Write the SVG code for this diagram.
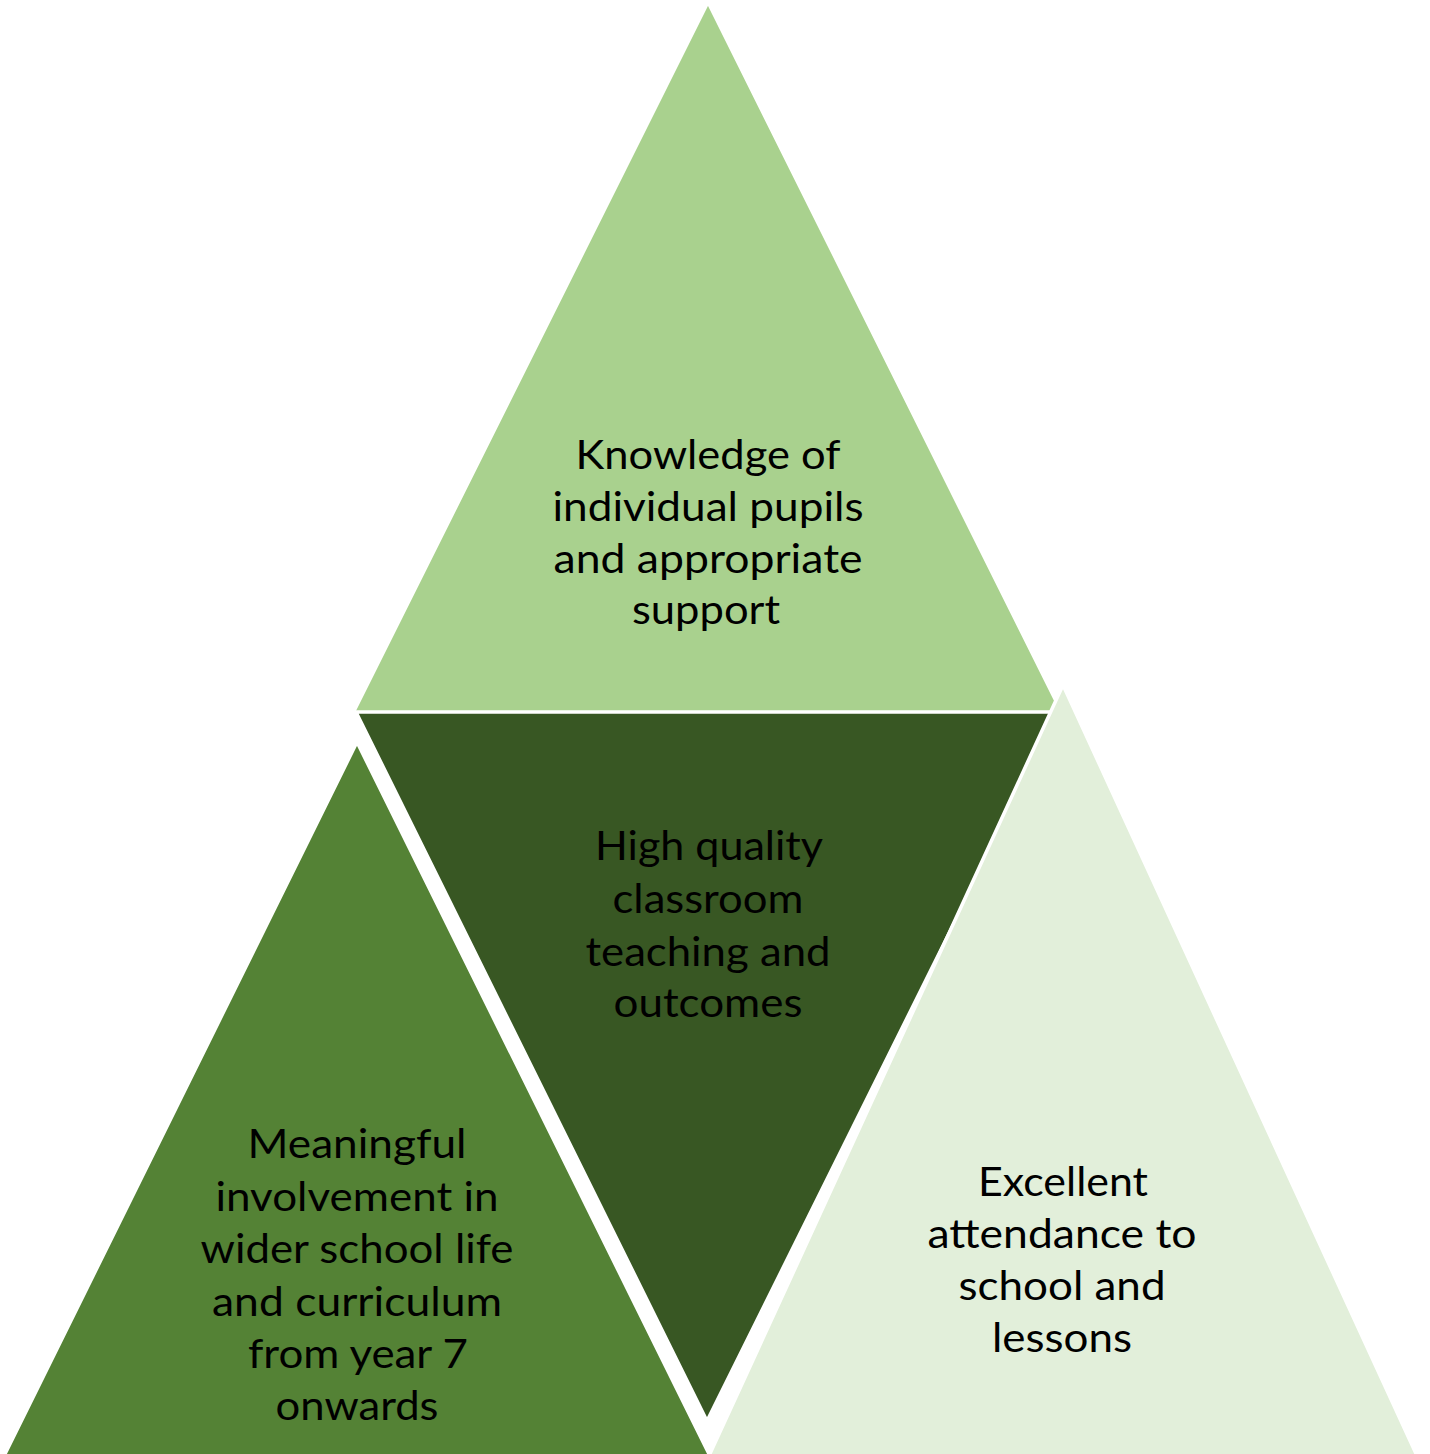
<svg xmlns="http://www.w3.org/2000/svg" width="1430" height="1454" viewBox="0 0 1430 1454">
<style>
.tri{stroke:#FFFFFF;stroke-width:3.5;stroke-linejoin:miter}
.lbl{font-family:Lato,"Noto Sans","Liberation Sans",sans-serif;font-size:41px;fill:#000000;text-anchor:middle}
</style>
<rect width="1430" height="1454" fill="#FFFFFF"/>
<g id="node-top">
<polygon class="tri" points="708,2 353,713 1062,713" fill="#A9D18E"/>
<text class="lbl"><tspan x="708" y="469" textLength="265" lengthAdjust="spacingAndGlyphs">Knowledge of</tspan><tspan x="708" y="521" textLength="311" lengthAdjust="spacingAndGlyphs">individual pupils</tspan><tspan x="708" y="573" textLength="309" lengthAdjust="spacingAndGlyphs">and appropriate</tspan><tspan x="706" y="624" textLength="148" lengthAdjust="spacingAndGlyphs">support</tspan></text>
</g>
<g id="node-center">
<polygon class="tri" points="356,712 1059,712 707,1421" fill="#385723"/>
<text class="lbl"><tspan x="709" y="860" textLength="228" lengthAdjust="spacingAndGlyphs">High quality</tspan><tspan x="708" y="913" textLength="191" lengthAdjust="spacingAndGlyphs">classroom</tspan><tspan x="708" y="966" textLength="245" lengthAdjust="spacingAndGlyphs">teaching and</tspan><tspan x="708" y="1017" textLength="189" lengthAdjust="spacingAndGlyphs">outcomes</tspan></text>
</g>
<g id="node-bottom-left">
<polygon class="tri" points="357,742 3,1458 711,1458" fill="#548235"/>
<text class="lbl"><tspan x="357" y="1158" textLength="219" lengthAdjust="spacingAndGlyphs">Meaningful</tspan><tspan x="357" y="1211" textLength="283" lengthAdjust="spacingAndGlyphs">involvement in</tspan><tspan x="357" y="1263" textLength="313" lengthAdjust="spacingAndGlyphs">wider school life</tspan><tspan x="357" y="1316" textLength="290" lengthAdjust="spacingAndGlyphs">and curriculum</tspan><tspan x="358" y="1368" textLength="220" lengthAdjust="spacingAndGlyphs">from year 7</tspan><tspan x="357" y="1420" textLength="163" lengthAdjust="spacingAndGlyphs">onwards</tspan></text>
</g>
<g id="node-bottom-right">
<polygon class="tri" points="1063,685 708,1458 1418,1458" fill="#E2EFDA"/>
<text class="lbl"><tspan x="1063" y="1196" textLength="170" lengthAdjust="spacingAndGlyphs">Excellent</tspan><tspan x="1062" y="1248" textLength="269" lengthAdjust="spacingAndGlyphs">attendance to</tspan><tspan x="1062" y="1300" textLength="207" lengthAdjust="spacingAndGlyphs">school and</tspan><tspan x="1062" y="1352" textLength="140" lengthAdjust="spacingAndGlyphs">lessons</tspan></text>
</g>
<g id="connectors"></g>
</svg>
